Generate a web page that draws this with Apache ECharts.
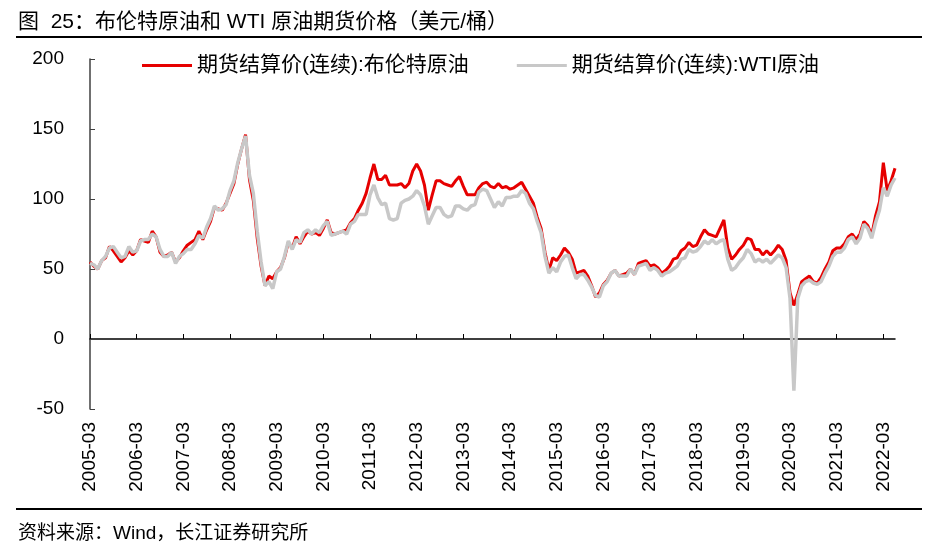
<!DOCTYPE html>
<html lang="zh">
<head>
<meta charset="UTF-8">
<title>布伦特原油和 WTI 原油期货价格</title>
<style>
    body { margin: 0; background: #fff; }
    #chart { width: 940px; height: 559px; }
</style>
</head>
<body>
<div id="chart"></div>
<script src="https://cdn.jsdelivr.net/npm/echarts@6/dist/echarts.min.js"></script>
<script>
    const FONT = "'Liberation Sans', 'Noto Sans CJK SC', sans-serif";

    // monthly categories, 2005-03 .. 2022-06
    const months = [];
    for (let y = 2005; y <= 2022; y++) {
        for (let m = 1; m <= 12; m++) {
            if (y === 2005 && m < 3) continue;
            if (y === 2022 && m > 6) break;
            months.push(y + '-' + String(m).padStart(2, '0'));
        }
    }

    const brentName = '期货结算价(连续):布伦特原油';
    const wtiName = '期货结算价(连续):WTI原油';

    // 美元/桶
    const brent = [
        55, 52, 50, 56, 58, 66, 63, 59, 55, 58,
        63, 60, 63, 71, 70, 69, 77, 73, 62, 59, 60, 62,
        55, 58, 63, 67, 69, 71, 77, 71, 78, 84, 94, 93,
        92, 97, 104, 111, 125, 136, 146, 114, 99, 72, 52, 38,
        45, 43, 48, 51, 58, 69, 65, 73, 68, 73, 77, 75,
        76, 74, 79, 85, 76, 75, 76, 77, 78, 83, 86, 92,
        97, 104, 115, 125, 114, 114, 117, 110, 110, 110, 111, 108,
        111, 120, 125, 120, 110, 92, 103, 113, 113, 111, 110, 109,
        113, 116, 109, 103, 103, 103, 108, 111, 112, 109, 108, 111,
        108, 109, 107, 108, 110, 112, 107, 102, 97, 87, 79, 62,
        49, 58, 56, 60, 65, 62, 57, 47, 48, 49, 45, 38,
        30, 33, 39, 42, 47, 49, 45, 46, 47, 50, 46, 54,
        55, 56, 52, 53, 51, 47, 49, 52, 57, 58, 63, 65,
        69, 66, 67, 73, 78, 75, 74, 73, 79, 85, 65, 57,
        60, 64, 67, 72, 71, 64, 64, 60, 63, 60, 63, 67,
        64, 56, 33, 24, 32, 41, 43, 45, 41, 40, 44, 50,
        55, 63, 65, 65, 68, 73, 75, 71, 75, 84, 81, 74,
        88, 98, 126, 106, 113, 122
    ];

    const wti = [
        54, 53, 50, 56, 59, 65, 66, 62, 58, 59,
        66, 62, 63, 70, 71, 71, 75, 73, 64, 59, 59, 62,
        54, 59, 61, 64, 64, 68, 74, 72, 80, 86, 95, 92,
        93, 96, 106, 113, 126, 136, 145, 117, 104, 77, 55, 38,
        41, 36, 48, 50, 59, 70, 64, 71, 69, 76, 78, 75,
        78, 76, 81, 84, 74, 75, 76, 77, 75, 82, 84, 89,
        89, 89, 103, 110, 101, 96, 97, 86, 85, 86, 97, 99,
        100, 102, 106, 103, 95, 82, 88, 94, 94, 89, 87, 88,
        95, 95, 93, 92, 95, 96, 105, 107, 106, 100, 94, 98,
        95, 101, 101, 102, 102, 106, 104, 97, 93, 84, 76, 59,
        47, 51, 48, 55, 59, 60, 51, 43, 46, 46, 42, 37,
        31, 30, 38, 41, 47, 49, 45, 45, 45, 50, 46, 52,
        53, 54, 49, 51, 49, 45, 47, 48, 50, 52, 57, 58,
        64, 62, 63, 66, 70, 68, 71, 68, 70, 71, 57, 49,
        51, 55, 58, 64, 61, 55, 57, 55, 57, 54, 57, 60,
        58, 51, 29, -37, 29, 38, 41, 42, 40, 39, 41, 47,
        52, 59, 62, 62, 65, 71, 73, 68, 72, 82, 79, 72,
        83, 92, 108, 102, 110, 115
    ];

    const isMarch = (idx, val) => val.slice(5) === '03';

    const chart = echarts.init(document.getElementById('chart'));

    chart.setOption({
        animation: false,
        textStyle: { fontFamily: FONT },
        grid: { left: 90, right: 45, top: 59, bottom: 150 },
        legend: {
            top: 50,
            left: 137,
            icon: 'rect',
            itemWidth: 50,
            itemHeight: 3,
            itemGap: 48,
            textStyle: { fontSize: 21, color: '#000', fontFamily: FONT },
            data: [brentName, wtiName]
        },
        xAxis: [
            {
                type: 'category',
                data: months,
                boundaryGap: false,
                axisLine: { onZero: true, lineStyle: { color: '#000', width: 1.5 } },
                axisTick: { inside: true, length: 5, interval: isMarch, lineStyle: { color: '#000' } },
                axisLabel: { show: false }
            },
            {
                type: 'category',
                data: months,
                boundaryGap: false,
                position: 'bottom',
                axisLine: { show: false, onZero: false },
                axisTick: { show: false },
                axisLabel: {
                    interval: isMarch,
                    rotate: 90,
                    margin: 13,
                    fontSize: 19,
                    color: '#000',
                    fontFamily: FONT
                }
            }
        ],
        yAxis: {
            type: 'value',
            min: -50,
            max: 200,
            interval: 50,
            axisLine: { show: true, lineStyle: { color: '#404040', width: 1.5 } },
            axisTick: { show: true, inside: true, length: 5, lineStyle: { color: '#404040' } },
            splitLine: { show: false },
            axisLabel: { fontSize: 19, margin: 26, color: '#000', fontFamily: FONT }
        },
        series: [
            {
                name: brentName,
                type: 'line',
                data: brent,
                showSymbol: false,
                lineStyle: { color: '#E60000', width: 3 },
                itemStyle: { color: '#E60000' }
            },
            {
                name: wtiName,
                type: 'line',
                data: wti,
                showSymbol: false,
                lineStyle: { color: '#C8C8C8', width: 3.5 },
                itemStyle: { color: '#C8C8C8' }
            }
        ],
        graphic: [
            {
                type: 'text',
                left: 18,
                top: 12,
                style: {
                    text: '图  25：布伦特原油和 WTI 原油期货价格（美元/桶）',
                    fontSize: 21,
                    fill: '#000',
                    fontFamily: FONT
                }
            },
            {
                type: 'line',
                shape: { x1: 16, y1: 37, x2: 922, y2: 37 },
                style: { stroke: '#000', lineWidth: 2 }
            },
            {
                type: 'line',
                shape: { x1: 16, y1: 509, x2: 922, y2: 509 },
                style: { stroke: '#000', lineWidth: 2 }
            },
            {
                type: 'text',
                left: 18,
                top: 524,
                style: {
                    text: '资料来源：Wind，长江证券研究所',
                    fontSize: 19,
                    fill: '#000',
                    fontFamily: FONT
                }
            }
        ]
    });
</script>
</body>
</html>
